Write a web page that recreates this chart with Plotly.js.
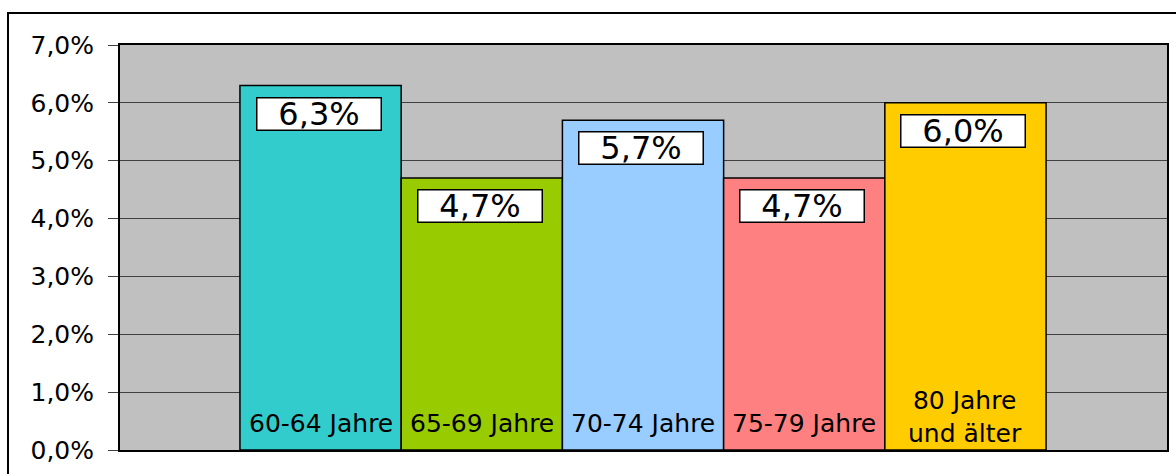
<!DOCTYPE html>
<html>
<head>
<meta charset="utf-8">
<script src="https://cdn.plot.ly/plotly-3.0.1.min.js"></script>
<style>
  html, body { margin: 0; padding: 0; background: #ffffff; }
  #wrap { position: relative; width: 1176px; height: 474px; overflow: hidden; }
  #chart { width: 1176px; height: 474px; }
  #frame { position: absolute; left: 7px; top: 12px; width: 1200px; height: 500px;
           border: 2px solid #000; pointer-events: none; }
</style>
</head>
<body>
<div id="wrap">
  <div id="chart"></div>
  <div id="frame"></div>
</div>
<script>
// Data
const categories = ["60-64 Jahre", "65-69 Jahre", "70-74 Jahre", "75-79 Jahre", "80 Jahre<br>und älter"];
const values = [6.3, 4.7, 5.7, 4.7, 6.0];
const barColors = ["#33CCCC", "#99CC00", "#99CCFF", "#FF8080", "#FFCC00"];
const tickValues = [0, 1, 2, 3, 4, 5, 6, 7];

const FONT = "DejaVu Sans, Arial, sans-serif";
const fmt = v => v.toFixed(1).replace('.', ',') + '%';

const trace = {
  type: 'bar',
  x: categories,
  y: values,
  marker: { color: barColors, line: { color: '#000000', width: 1.5 } },
  hoverinfo: 'skip',
  showlegend: false
};

const annotations = [];
categories.forEach((c, i) => {
  annotations.push({
    x: c, y: values[i], xref: 'x', yref: 'y',
    text: fmt(values[i]),
    showarrow: false,
    yanchor: 'top', yshift: -11, xshift: -2,
    width: 121, height: 29,
    bgcolor: '#ffffff', bordercolor: '#000000', borderwidth: 1.5, borderpad: 1,
    font: { family: FONT, size: 32, color: '#000000' }
  });
  const lines = c.split('<br>').length;
  annotations.push({
    x: c, y: 0, xref: 'x', yref: 'y',
    text: c,
    showarrow: false,
    yanchor: 'middle', yshift: 27 + (lines - 1) * 6,
    font: { family: FONT, size: 25, color: '#000000' }
  });
});

const layout = {
  width: 1176, height: 474,
  margin: { l: 120, r: 9, t: 45, b: 24, pad: 0 },
  paper_bgcolor: '#ffffff',
  plot_bgcolor: '#C0C0C0',
  bargap: 0,
  font: { family: FONT, color: '#000000' },
  xaxis: {
    type: 'category',
    categoryorder: 'array', categoryarray: categories,
    range: [-1.244, 5.25],
    showticklabels: false, ticks: '',
    showgrid: false, zeroline: false,
    showline: true, mirror: true, linecolor: '#000000', linewidth: 2,
    fixedrange: true
  },
  yaxis: {
    range: [0, 7],
    tickmode: 'array',
    tickvals: tickValues,
    ticktext: tickValues.map(fmt),
    ticks: 'outside', ticklen: 10, tickwidth: 1, tickcolor: '#404040',
    ticklabelstandoff: 9,
    tickfont: { family: FONT, size: 25, color: '#000000' },
    showgrid: true, gridcolor: '#404040', gridwidth: 1,
    zeroline: false,
    showline: true, mirror: true, linecolor: '#000000', linewidth: 2,
    fixedrange: true
  },
  annotations: annotations
};

Plotly.newPlot('chart', [trace], layout, { displayModeBar: false, staticPlot: true });
</script>
</body>
</html>
